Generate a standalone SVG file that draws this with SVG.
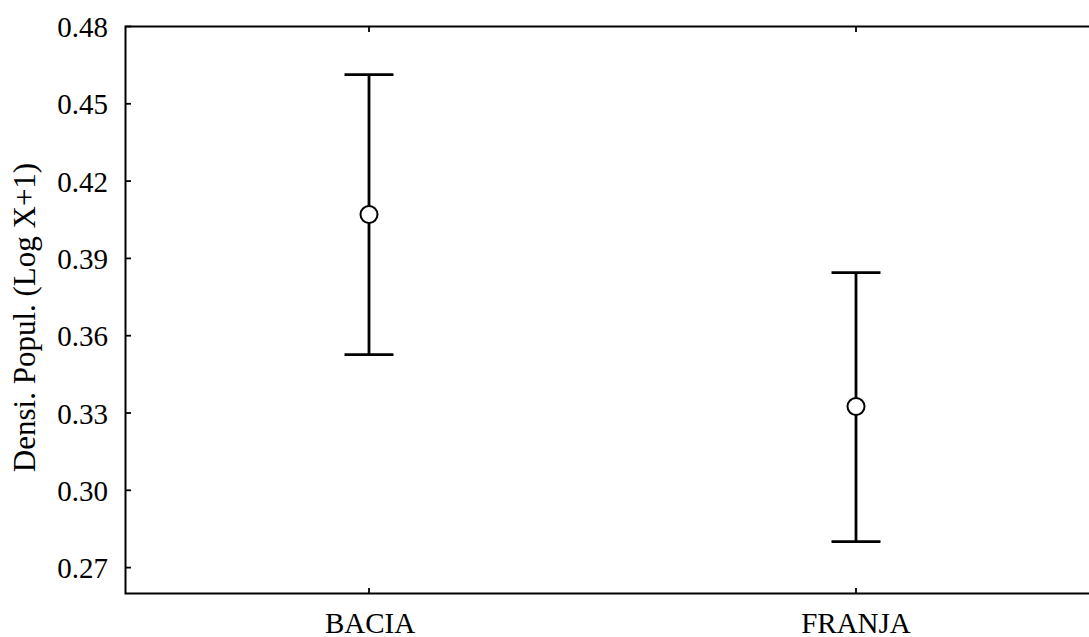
<svg xmlns="http://www.w3.org/2000/svg" width="1089" height="637" viewBox="0 0 1089 637">
<style>
.ax{stroke:#000;stroke-width:2;fill:none}
.tk{stroke:#000;stroke-width:1.8}
.eb{stroke:#000;stroke-width:2.8;fill:none}
.pt{fill:#fff;stroke:#000;stroke-width:2}
text{font-family:"Liberation Serif","Times New Roman",serif;fill:#000}
.yl{font-size:29px;text-anchor:end}
.xl{font-size:29px;text-anchor:middle}
.tt{font-size:31px;text-anchor:middle}
</style>
<rect width="1089" height="637" fill="#fff"/>
<g id="axes">
<path class="ax" d="M1090,26.5 H125.5 V593.5 H1090"/>
<g class="tk">
<line x1="125.5" y1="26.5" x2="131" y2="26.5"/>
<line x1="125.5" y1="103.8" x2="131" y2="103.8"/>
<line x1="125.5" y1="181.1" x2="131" y2="181.1"/>
<line x1="125.5" y1="258.4" x2="131" y2="258.4"/>
<line x1="125.5" y1="335.7" x2="131" y2="335.7"/>
<line x1="125.5" y1="413" x2="131" y2="413"/>
<line x1="125.5" y1="490.3" x2="131" y2="490.3"/>
<line x1="125.5" y1="567.6" x2="131" y2="567.6"/>
<line x1="369" y1="593.5" x2="369" y2="588"/>
<line x1="856" y1="593.5" x2="856" y2="588"/>
<line x1="369" y1="26.5" x2="369" y2="32"/>
<line x1="856" y1="26.5" x2="856" y2="32"/>
</g>
<g class="yl">
<text x="108" y="37">0.48</text>
<text x="108" y="114.3">0.45</text>
<text x="108" y="191.6">0.42</text>
<text x="108" y="268.9">0.39</text>
<text x="108" y="346.2">0.36</text>
<text x="108" y="423.5">0.33</text>
<text x="108" y="500.8">0.30</text>
<text x="108" y="578.1">0.27</text>
</g>
<text class="xl" x="370" y="633">BACIA</text>
<text class="xl" x="856" y="633">FRANJA</text>
<text class="tt" transform="translate(35,317.5) rotate(-90)">Densi. Popul. (Log X+1)</text>
</g>
<g id="connectors">
<path class="eb" d="M344.5,74.7 H393.5 M369,74.7 V354.7 M344.5,354.7 H393.5"/>
<path class="eb" d="M831.5,272.7 H880.5 M856,272.7 V541.7 M831.5,541.7 H880.5"/>
</g>
<g id="bacia">
<circle class="pt" cx="369" cy="214.5" r="8.5"/>
</g>
<g id="franja">
<circle class="pt" cx="856" cy="406.5" r="8.5"/>
</g>
</svg>
